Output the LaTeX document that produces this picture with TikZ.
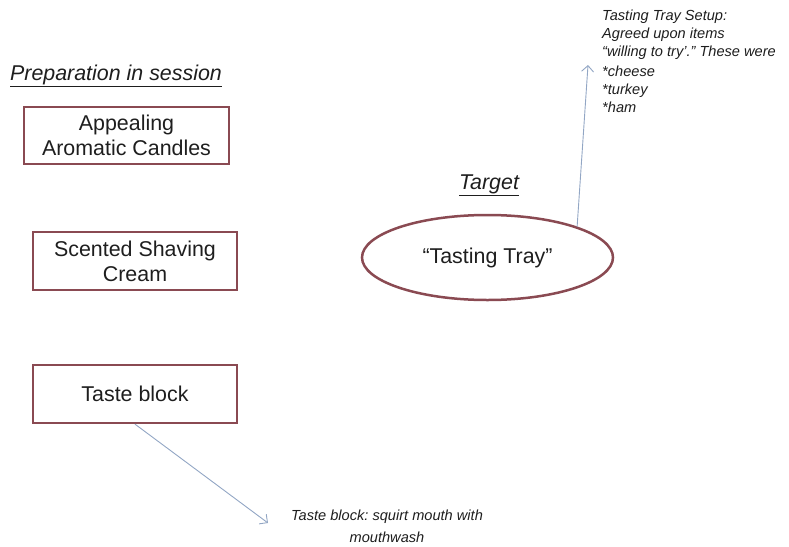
\documentclass[tikz,border=0pt]{standalone}
\usepackage{fontspec}
\setmainfont{Liberation Sans}
\usepackage{xcolor}
\usepackage{tikz}
\usetikzlibrary{arrows.meta}
\usetikzlibrary{shapes.geometric}
\frenchspacing

\definecolor{boxred}{RGB}{138,74,82}
\definecolor{linkblue}{RGB}{146,166,196}
\definecolor{ink}{RGB}{30,30,30}

\tikzset{
	itembox/.style={draw=boxred, line width=2.3pt, inner sep=0pt,
		minimum width=204pt, minimum height=58pt, align=center,
		text=ink, font=\fontsize{21.4}{25}\selectfont},
	head/.style={anchor=base, text=ink, inner sep=0pt,
		font=\fontsize{21.4}{25}\selectfont\itshape},
	note/.style={text=ink, inner sep=0pt,
		font=\fontsize{14.6}{18}\selectfont\itshape}
}

\begin{document}
\begin{tikzpicture}[x=1pt,y=-1pt]
	\useasboundingbox (0,0) rectangle (789,546);

	\node[head] (h1) at (116,80){\underline{Preparation in session}};
	\node[head] (h2) at (489,189){\underline{Target}};

	\node[itembox, minimum width=205pt, minimum height=57pt] (b1) at (126.5,135.5)
		{Appealing\\Aromatic Candles};
	\node[itembox] (b2) at (135,261){Scented Shaving\\Cream};
	\node[itembox] (b3) at (135,394){Taste block};

	\node[ellipse, draw=boxred, line width=2.5pt, inner sep=0pt,
		minimum width=251pt, minimum height=85pt, text=ink,
		font=\fontsize{21.4}{25}\selectfont] (tray) at (487.5,257.5)
		{``Tasting Tray''};

	\node[note, anchor=north west, align=left] (setup) at (602,9.5)
		{Tasting Tray Setup:\\Agreed upon items\\``willing to try'.'' These were\\[2pt]
		*cheese\\*turkey\\*ham};
	\node[note, align=center, font=\fontsize{14.6}{22}\selectfont\itshape] (wash)
		at (387,526){Taste block: squirt mouth with\\mouthwash};

	\coordinate (up) at (588,65);
	\coordinate (down) at (268,523);

	\begin{scope}[>={Straight Barb[length=6pt,width=12pt]},
			every edge/.style={draw=linkblue, line width=0.9pt}]
		\path[->] (tray.north east) edge (up);
		\path[->] (b3.south) edge (down);
	\end{scope}

\end{tikzpicture}
\end{document}
